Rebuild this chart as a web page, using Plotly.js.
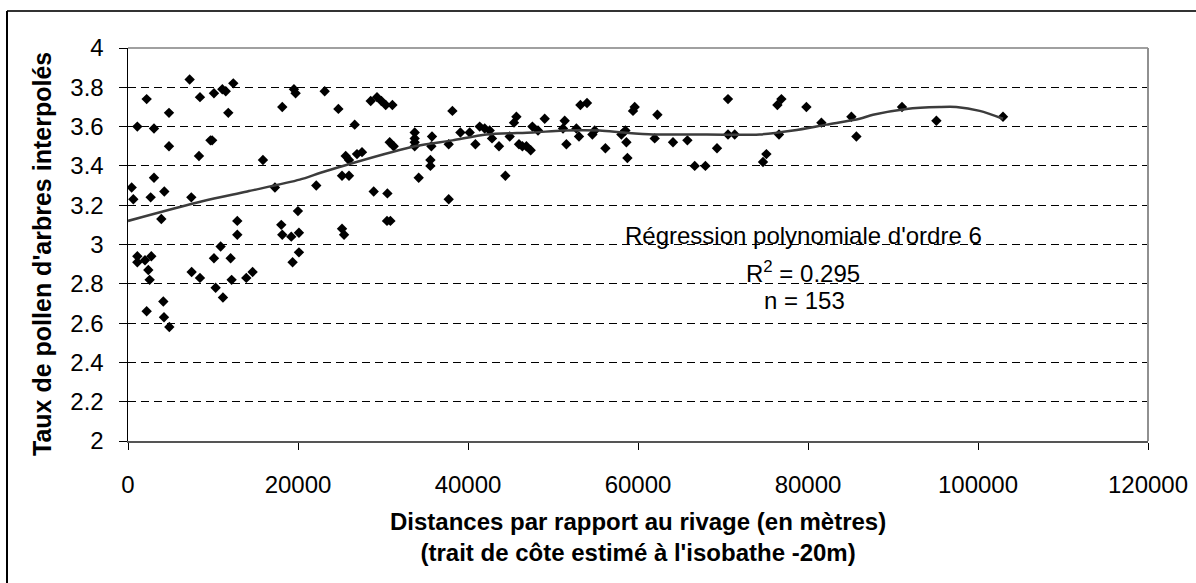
<!DOCTYPE html>
<html>
<head>
<meta charset="utf-8">
<script src="https://cdn.plot.ly/plotly-3.0.1.min.js"></script>
<style>html,body{margin:0;padding:0;background:#fff;}#chart{width:1196px;height:583px;}</style>
</head>
<body>
<div id="chart"></div>
<script>
// Distances par rapport au rivage (m)
const distances = [
  431, 627, 1098, 2195, 3058, 4822, 4822, 3058, 2666, 4273, 3920, 1098, 1098, 2000, 2744, 2391, 2548, 2195, 4155, 4234, 4861,
  7252, 8467, 10114, 11100, 11500, 12387, 11799, 9700, 9900, 8350, 7448, 7487, 8467, 10114, 10898, 12858, 12858, 12074, 10310,
  11172, 12191, 13916, 14661, 15876, 17287, 18150, 19522, 19718, 18032, 18150, 19208, 19992, 20110, 20110, 19365, 22148,
  23141, 24750, 26670, 25612, 26000, 25180, 26000, 26941, 27530, 25180, 25420, 28553, 29294, 29812, 30318, 31106, 28906,
  30518, 30470, 30870, 30788, 31259, 34200, 33729, 33729, 33729, 33729, 35576, 35576, 35765, 35690, 37729, 37729, 38165,
  39106, 40200, 40870, 41376, 41965, 42553, 42824, 43647,
  44400, 44906, 45412, 45694, 46000, 46400, 46871, 47376, 47576, 48235, 49024, 51376, 51176, 51576, 52753, 53059, 53224,
  54000, 54906, 54635, 56165, 58518, 58047, 58635, 58753, 59412, 59612, 61965, 62282, 64118,
  65812, 66670, 67929, 69294, 70588, 70588, 71376, 74706, 75106, 76588, 76400, 76870, 79812, 81576, 85106, 85694,
  91059, 95106, 102941
];
// Taux de pollen d'arbres interpolés
const pollen = [
  3.29, 3.23, 3.60, 3.74, 3.59, 3.67, 3.50, 3.34, 3.24, 3.27, 3.13, 2.94, 2.91, 2.92, 2.94, 2.87, 2.82, 2.66, 2.71, 2.63, 2.58,
  3.84, 3.75, 3.77, 3.79, 3.78, 3.82, 3.67, 3.53, 3.53, 3.45, 3.24, 2.86, 2.83, 2.93, 2.99, 3.12, 3.05, 2.93, 2.78,
  2.73, 2.82, 2.83, 2.86, 3.43, 3.29, 3.70, 3.79, 3.77, 3.10, 3.05, 3.04, 3.17, 3.06, 2.96, 2.91, 3.30,
  3.78, 3.69, 3.61, 3.45, 3.43, 3.35, 3.35, 3.46, 3.47, 3.08, 3.05, 3.73, 3.75, 3.73, 3.71, 3.71, 3.27,
  3.26, 3.12, 3.12, 3.52, 3.50, 3.34, 3.57, 3.54, 3.52, 3.50, 3.43, 3.40, 3.55, 3.50, 3.23, 3.51, 3.68,
  3.57, 3.57, 3.51, 3.60, 3.59, 3.58, 3.54, 3.50,
  3.35, 3.55, 3.62, 3.65, 3.51, 3.50, 3.50, 3.48, 3.60, 3.58, 3.64, 3.63, 3.59, 3.51, 3.59, 3.55, 3.71,
  3.72, 3.58, 3.56, 3.49, 3.58, 3.56, 3.52, 3.44, 3.68, 3.70, 3.54, 3.66, 3.52,
  3.53, 3.40, 3.40, 3.49, 3.74, 3.56, 3.56, 3.42, 3.46, 3.56, 3.71, 3.74, 3.70, 3.62, 3.65, 3.55,
  3.70, 3.63, 3.65
];
// Courbe de tendance (régression polynomiale d'ordre 6)
const trendX = [0, 8740, 14030, 20200, 22650, 26080, 33730, 38160, 42165, 47650, 51180, 55490, 58235, 61765, 64900,
  66470, 74318, 78235, 82165, 86080, 87650, 91580, 95490, 97450, 100200, 102940];
const trendY = [3.12, 3.22, 3.27, 3.33, 3.365, 3.41, 3.50, 3.53, 3.56, 3.57, 3.58, 3.58, 3.57, 3.56, 3.56,
  3.56, 3.56, 3.58, 3.61, 3.64, 3.66, 3.69, 3.70, 3.70, 3.68, 3.64];

const xTitle = "Distances par rapport au rivage (en mètres)<br>(trait de côte estimé à l'isobathe -20m)";
const yTitle = "Taux de pollen d'arbres interpolés";
const noteLines = ["Régression polynomiale d'ordre 6", "R<sup>2</sup> = 0.295", "n = 153"];

const FONT = "Liberation Sans, Arial, sans-serif";

const traces = [
  {
    x: distances, y: pollen, type: 'scatter', mode: 'markers',
    marker: {symbol: 'diamond', size: 8, color: '#000000'},
    showlegend: false, hoverinfo: 'x+y'
  },
  {
    x: trendX, y: trendY, type: 'scatter', mode: 'lines',
    line: {color: '#3c3c3c', width: 2.5, shape: 'spline', smoothing: 0.8},
    showlegend: false, hoverinfo: 'skip'
  }
];

// plot area: x 128..1148 px, y 48..441 px
const pw = 1020, ph = 393;
function px2paperX(p) { return (p - 128) / pw; }
function px2paperY(p) { return (441 - p) / ph; }

const layout = {
  width: 1196, height: 583,
  margin: {l: 128, r: 48, t: 48, b: 142, pad: 0},
  paper_bgcolor: '#ffffff', plot_bgcolor: '#ffffff',
  font: {family: FONT, size: 24, color: '#000000'},
  xaxis: {
    range: [0, 120000], dtick: 20000, tick0: 0, tickformat: 'd',
    showgrid: false, zeroline: false,
    showline: true, linecolor: '#555555', linewidth: 2,
    ticks: 'outside', ticklen: 7, tickcolor: '#000000', tickwidth: 1,
    ticklabelstandoff: 14,
    tickfont: {family: FONT, size: 24, color: '#000000'}
  },
  yaxis: {
    range: [2, 4], dtick: 0.2, tick0: 2,
    showgrid: true, gridcolor: '#000000', gridwidth: 1, griddash: '8px,5px',
    zeroline: false,
    showline: true, linecolor: '#000000', linewidth: 1.5,
    ticks: 'outside', ticklen: 8, tickcolor: '#000000', tickwidth: 1,
    ticklabelstandoff: 10,
    tickfont: {family: FONT, size: 24, color: '#000000'}
  },
  shapes: [
    // plot area frame (top & right, gray)
    {type: 'line', xref: 'paper', yref: 'paper', x0: 0, x1: 1, y0: 1, y1: 1, line: {color: '#a0a0a0', width: 2}, layer: 'above'},
    {type: 'line', xref: 'paper', yref: 'paper', x0: 1, x1: 1, y0: 0, y1: 1, line: {color: '#909090', width: 2}, layer: 'above'},
    // outer chart border (top & left)
    {type: 'line', xref: 'paper', yref: 'paper', x0: px2paperX(7), x1: px2paperX(1197), y0: px2paperY(11), y1: px2paperY(11), line: {color: '#333333', width: 2}},
    {type: 'line', xref: 'paper', yref: 'paper', x0: px2paperX(7), x1: px2paperX(7), y0: px2paperY(11), y1: px2paperY(584), line: {color: '#000000', width: 2}}
  ],
  annotations: [
    {text: noteLines[0], xref: 'paper', yref: 'paper', x: px2paperX(803), y: px2paperY(235), xanchor: 'center', yanchor: 'middle', showarrow: false, font: {family: FONT, size: 24}},
    {text: noteLines[1], xref: 'paper', yref: 'paper', x: px2paperX(803), y: px2paperY(272), xanchor: 'center', yanchor: 'middle', showarrow: false, font: {family: FONT, size: 24}},
    {text: noteLines[2], xref: 'paper', yref: 'paper', x: px2paperX(804), y: px2paperY(300), xanchor: 'center', yanchor: 'middle', showarrow: false, font: {family: FONT, size: 24}},
    {text: '<b>' + xTitle + '</b>', xref: 'paper', yref: 'paper', x: 0.5, y: px2paperY(537), xanchor: 'center', yanchor: 'middle', showarrow: false, font: {family: FONT, size: 24}},
    {text: '<b>' + yTitle + '</b>', xref: 'paper', yref: 'paper', x: px2paperX(42), y: px2paperY(254), xanchor: 'center', yanchor: 'middle', textangle: -90, showarrow: false, font: {family: FONT, size: 25}}
  ]
};

Plotly.newPlot('chart', traces, layout, {displayModeBar: false, staticPlot: true});
</script>
</body>
</html>
